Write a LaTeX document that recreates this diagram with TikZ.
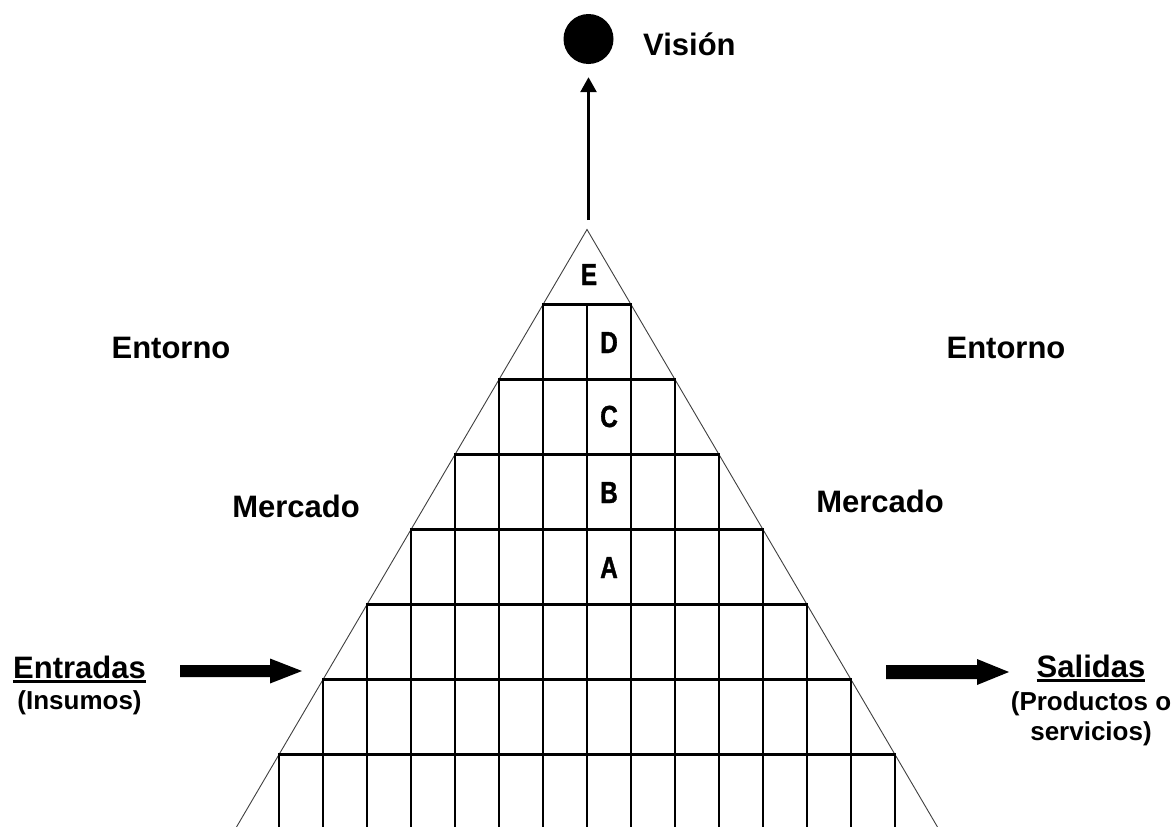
\documentclass[tikz,border=0pt]{standalone}
\usepackage{fontspec}
\setmainfont{Liberation Sans}
\newfontfamily\cellfont[FakeStretch=0.8,FakeBold=1.2]{Liberation Sans Bold}
\usetikzlibrary{arrows.meta,positioning}

\tikzset{
  bigtext/.style={font=\fontsize{31}{36}\selectfont\bfseries,inner sep=0pt,anchor=base},
  subtext/.style={font=\fontsize{26}{30}\selectfont\bfseries,inner sep=0pt,align=center,anchor=base},
  cellletter/.style={font=\cellfont\fontsize{30.5}{36}\selectfont,inner sep=0pt,anchor=base},
  gridline/.style={line width=2.8pt,line cap=rect},
  sideline/.style={line width=0.9pt,black!75},
  blockarrow/.style={fill=black},
}

\begin{document}
\begin{tikzpicture}[x=1pt,y=-1pt]
\useasboundingbox[fill=white] (0,0) rectangle (1176,827);

% pyramid outline
\coordinate (apex) at (587,229.5);
\coordinate (baseL) at (236.5,827);
\coordinate (baseR) at (937.5,827);
\draw[sideline] (baseL) -- (apex) -- (baseR);

% stepped grid
\foreach \i in {1,...,7}{
  \pgfmathsetmacro\rowtop{304.5+75*(\i-1)}
  \pgfmathsetmacro\rowbot{min(\rowtop+75,827)}
  \draw[gridline] (587-44*\i,\rowtop) -- (587+44*\i,\rowtop);
  \foreach \k in {-\i,...,\i}
    \draw[gridline] (587+44*\k,\rowtop) -- (587+44*\k,\rowbot);
}

% levels
\node[cellletter] (cellE) at (589,285) {E};
\node[cellletter] (cellD) at (609,353) {D};
\node[cellletter] (cellC) at (609,427) {C};
\node[cellletter] (cellB) at (609,503) {B};
\node[cellletter] (cellA) at (609,578) {A};

% vision
\node[circle,fill,minimum size=50pt,inner sep=0pt] (vis) at (588.5,39) {};
\node[bigtext,anchor=base west] (visText) at (643,55) {Visión};
\coordinate (apexTip) at (588.5,220);
\draw[line width=2.7pt,-{Triangle[length=15pt,width=16pt]},shorten >=13pt] (apexTip) -- (vis);

% surroundings
\node[bigtext] (entornoL) at (171,358) {Entorno};
\node[bigtext] (entornoR) at (1006,358) {Entorno};
\node[bigtext] (mercadoL) at (296,517) {Mercado};
\node[bigtext] (mercadoR) at (880,512) {Mercado};

% inputs
\node[bigtext] (entradas) at (79.5,678) {Entradas};
\draw[line width=2.8pt] ([yshift=-3.5pt]entradas.base west) -- ([yshift=-3.5pt]entradas.base east);
\node[subtext] (insumos) at (79.5,709.5) {(Insumos)};
\fill[blockarrow] (180,665) -- (270,665) -- (270,658.5) -- (302,671) -- (270,683.5) -- (270,677) -- (180,677) -- cycle;

% outputs
\node[bigtext] (salidas) at (1091,677) {Salidas};
\draw[line width=2.8pt] ([yshift=-3.5pt]salidas.base west) -- ([yshift=-3.5pt]salidas.base east);
\node[subtext] (productos) at (1091,740) {(Productos o\\servicios)};
\fill[blockarrow] (886,665) -- (977,665) -- (977,659) -- (1009,672) -- (977,685) -- (977,679) -- (886,679) -- cycle;
\end{tikzpicture}
\end{document}
